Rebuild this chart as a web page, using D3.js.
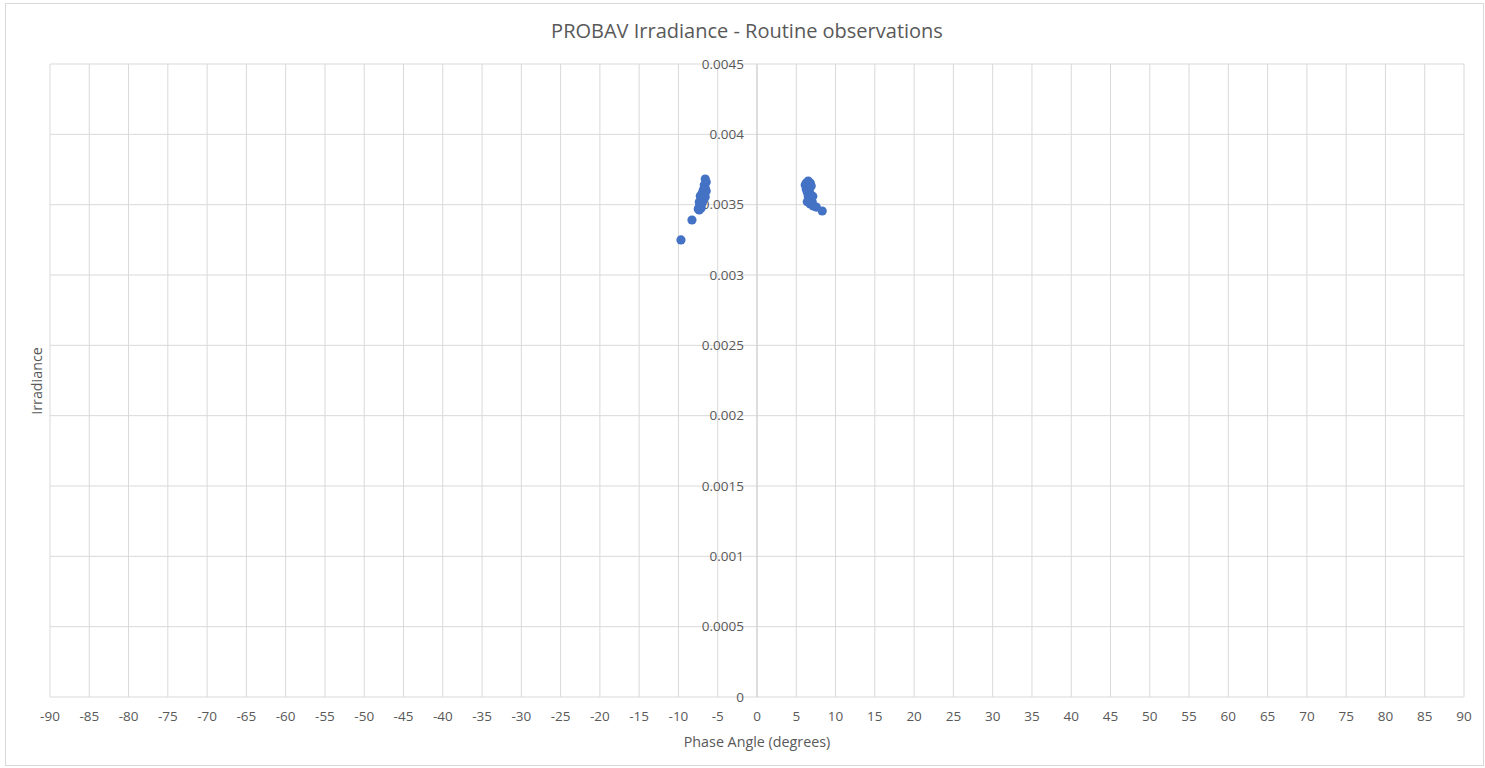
<!DOCTYPE html>
<html><head><meta charset="utf-8">
<script src="https://cdn.jsdelivr.net/npm/d3@7"></script>
<style>body{margin:0;background:#fff;}svg{display:block;font-family:"Open Sans",Lato,sans-serif;}</style>
</head><body><svg id="c" width="1485" height="768"></svg>
<script>
const title = "PROBAV Irradiance - Routine observations";
const xTitle = "Phase Angle (degrees)";
const yTitle = "Irradiance";
const xTicks = d3.range(-90, 91, 5);
const yTicks = [0,0.0005,0.001,0.0015,0.002,0.0025,0.003,0.0035,0.004,0.0045];
const phaseNeg = [-6.59,-6.46,-6.71,-6.59,-6.84,-6.46,-6.97,-6.71,-7.22,-6.59,-7.10,-6.84,-7.35,-6.97,-7.22,-7.35,-7.10,-7.48,-7.35,-8.28,-9.68];
const irrNeg = [0.003682,0.003661,0.003640,0.003618,0.003604,0.003597,0.003583,0.003569,0.003562,0.003555,0.003540,0.003533,0.003519,0.003512,0.003498,0.003483,0.003476,0.003469,0.003462,0.003391,0.003249];
const phasePos = [6.52,6.78,6.14,6.52,6.27,6.65,6.39,6.78,6.52,6.90,6.65,7.03,6.78,7.16,7.54,8.30,6.27,6.90,7.10,6.40];
const irrPos = [0.003668,0.003654,0.003640,0.003626,0.003611,0.003604,0.003590,0.003576,0.003562,0.003547,0.003533,0.003519,0.003505,0.003491,0.003483,0.003455,0.003654,0.003633,0.003560,0.003520];

const svg = d3.select("#c");
const L=50, R=1464, T=64, B=697;
const x = d3.scaleLinear().domain([-90,90]).range([L,R]);
const y = d3.scaleLinear().domain([0,0.0045]).range([B,T]);
const grid="#d9d9d9", txt="#595959";

svg.append("rect").attr("x",5.5).attr("y",3.5).attr("width",1478).attr("height",762).attr("fill","#fff").attr("stroke",grid);

svg.append("g").selectAll("line").data(xTicks).join("line")
 .attr("x1",d=>x(d)).attr("x2",d=>x(d)).attr("y1",T).attr("y2",B).attr("stroke",grid);
svg.append("g").selectAll("line").data(yTicks).join("line")
 .attr("x1",L).attr("x2",R).attr("y1",d=>y(d)).attr("y2",d=>y(d)).attr("stroke",grid);
svg.append("line").attr("x1",x(0)).attr("x2",x(0)).attr("y1",T).attr("y2",B).attr("stroke","#cfcfcf");

svg.append("g").selectAll("text").data(xTicks).join("text")
 .attr("x",d=>x(d)).attr("y",B+24).attr("text-anchor","middle").attr("fill",txt).attr("font-size",13.5).text(d=>d);
svg.append("g").selectAll("text").data(yTicks).join("text")
 .attr("x",x(0)-13).attr("y",d=>y(d)+4.5).attr("text-anchor","end").attr("fill",txt).attr("font-size",13.5).text(d=>d3.format("")(d));

const pts = phaseNeg.map((p,i)=>[p,irrNeg[i]]).concat(phasePos.map((p,i)=>[p,irrPos[i]]));
svg.append("g").selectAll("circle").data(pts).join("circle")
 .attr("cx",d=>x(d[0])).attr("cy",d=>y(d[1])).attr("r",4.6).attr("fill","#4472c4");

svg.append("text").attr("x",747).attr("y",38).attr("text-anchor","middle").attr("fill",txt).attr("font-size",20).text(title);
svg.append("text").attr("x",757).attr("y",747).attr("text-anchor","middle").attr("fill",txt).attr("font-size",14.3).text(xTitle);
svg.append("text").attr("transform","translate(42,381) rotate(-90)").attr("text-anchor","middle").attr("fill",txt).attr("font-size",14.3).text(yTitle);
</script></body></html>
